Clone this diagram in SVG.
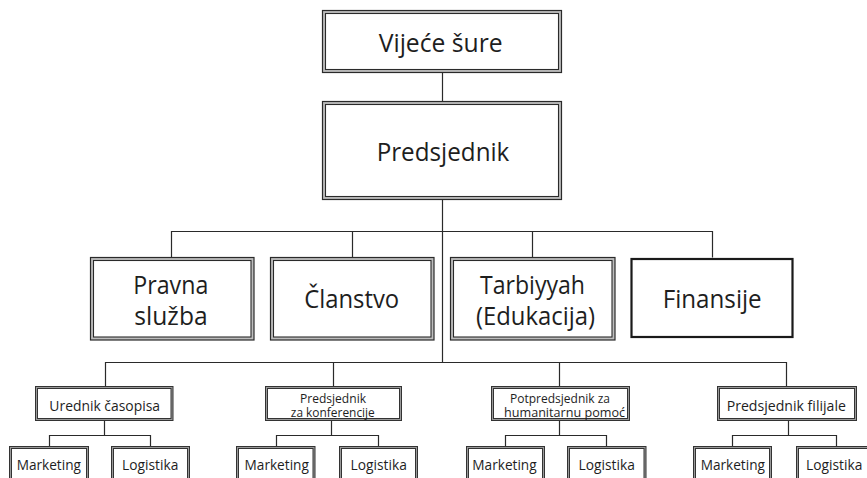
<svg xmlns="http://www.w3.org/2000/svg" width="867" height="478" viewBox="0 0 867 478">
  <style>
    .o { fill: #bdbdbd; stroke: #2a2a2a; stroke-width: 1.2; }
    .i { fill: #ffffff; stroke: #2a2a2a; stroke-width: 1.1; }
    .os { fill: #9a9a9a; stroke: #333; stroke-width: 1; }
    .is { fill: #ffffff; stroke: #333; stroke-width: 1; }
    .thick { fill: #ffffff; stroke: #1a1a1a; stroke-width: 2.2; }
    .c { fill: none; stroke: #2a2a2a; stroke-width: 1.2; }
    text { font-family: "Open Sans", "Noto Sans", sans-serif; fill: #1e1e1e; text-anchor: middle; }
    .t1 { font-size: 25px; }
    .t2 { font-size: 26px; }
    .t3 { font-size: 15px; }
    .t3s { font-size: 13px; }
  </style>
  <rect width="867" height="478" fill="#ffffff"/>

  <g id="connectors">
    <path class="c" d="M442.5 72.5V101.5 M442.5 199.5V362.5"/>
    <path class="c" d="M171.5 257.5V231.5H712.5V257.5 M352.5 231.5V257.5 M532.5 231.5V257.5"/>
    <path class="c" d="M105.5 386.5V362.5H786.5V386.5 M333.5 362.5V386.5 M559.5 362.5V386.5"/>
    <path class="c" d="M104.5 420.5V435.5 M49.5 446V435.5H150.5V446"/>
    <path class="c" d="M331.5 420.5V435.5 M276.5 446V435.5H378.5V446"/>
    <path class="c" d="M559.5 420.5V435.5 M505.5 446V435.5H606.5V446"/>
    <path class="c" d="M788.5 420.5V435.5 M732.5 446V435.5H836.5V446"/>
  </g>

  <g id="vijece-sure">
    <rect class="o" x="322.5" y="10.5" width="239" height="62"/>
    <rect class="i" x="325.5" y="13.5" width="233" height="56"/>
    <text class="t1" x="440.7" y="52" textLength="124" lengthAdjust="spacingAndGlyphs">Vijeće šure</text>
  </g>

  <g id="predsjednik">
    <rect class="o" x="322.5" y="101.5" width="239" height="98"/>
    <rect class="i" x="325.5" y="104.5" width="233" height="92"/>
    <text class="t1" x="443" y="160.5" textLength="132.7" lengthAdjust="spacingAndGlyphs">Predsjednik</text>
  </g>

  <g id="pravna-sluzba">
    <rect class="o" x="90.5" y="257.5" width="163.5" height="82.5"/>
    <rect class="i" x="93.5" y="260.5" width="157.5" height="76.5"/>
    <text class="t2" x="170.8" y="294" textLength="75" lengthAdjust="spacingAndGlyphs">Pravna</text>
    <text class="t2" x="171" y="325" textLength="73.3" lengthAdjust="spacingAndGlyphs">služba</text>
  </g>

  <g id="clanstvo">
    <rect class="o" x="270.5" y="257.5" width="163.5" height="82.5"/>
    <rect class="i" x="273.5" y="260.5" width="157.5" height="76.5"/>
    <text class="t2" x="351.7" y="308" textLength="95" lengthAdjust="spacingAndGlyphs">Članstvo</text>
  </g>

  <g id="tarbiyyah">
    <rect class="o" x="450.5" y="257.5" width="164.5" height="82.5"/>
    <rect class="i" x="453.5" y="260.5" width="158.5" height="76.5"/>
    <text class="t2" x="532.5" y="294" textLength="105" lengthAdjust="spacingAndGlyphs">Tarbiyyah</text>
    <text class="t2" x="535.5" y="325" textLength="119" lengthAdjust="spacingAndGlyphs">(Edukacija)</text>
  </g>

  <g id="finansije">
    <rect class="thick" x="631.5" y="259" width="161" height="78"/>
    <text class="t2" x="712.2" y="308" textLength="99" lengthAdjust="spacingAndGlyphs">Finansije</text>
  </g>

  <g id="urednik-casopisa">
    <rect class="os" x="35.5" y="386.5" width="137.5" height="34"/>
    <rect class="is" x="37.5" y="388.5" width="133.5" height="30"/>
    <text class="t3" x="104.7" y="410.5" textLength="110.7" lengthAdjust="spacingAndGlyphs">Urednik časopisa</text>
  </g>

  <g id="predsjednik-konferencije">
    <rect class="os" x="265.5" y="386.5" width="136" height="34"/>
    <rect class="is" x="267.5" y="388.5" width="132" height="30"/>
    <text class="t3s" x="333" y="403" textLength="66" lengthAdjust="spacingAndGlyphs">Predsjednik</text>
    <text class="t3s" x="332.8" y="416.5" textLength="84" lengthAdjust="spacingAndGlyphs">za konferencije</text>
  </g>

  <g id="potpredsjednik-humanitarna">
    <rect class="os" x="491.5" y="386.5" width="138" height="34"/>
    <rect class="is" x="493.5" y="388.5" width="134" height="30"/>
    <text class="t3s" x="560" y="403" textLength="100" lengthAdjust="spacingAndGlyphs">Potpredsjednik za</text>
    <text class="t3s" x="564.5" y="416.5" textLength="121" lengthAdjust="spacingAndGlyphs">humanitarnu pomoć</text>
  </g>

  <g id="predsjednik-filijale">
    <rect class="os" x="717.5" y="386.5" width="139" height="34"/>
    <rect class="is" x="719.5" y="388.5" width="135" height="30"/>
    <text class="t3" x="786.3" y="410.5" textLength="119.3" lengthAdjust="spacingAndGlyphs">Predsjednik filijale</text>
  </g>

  <!-- fourth row: Marketing / Logistika pairs -->
  <g id="marketing-1">
    <rect class="os" x="9.5" y="446.5" width="79" height="40"/>
    <rect class="is" x="11.5" y="448.5" width="75" height="40"/>
    <text class="t3" x="48.8" y="470" textLength="64.3" lengthAdjust="spacingAndGlyphs">Marketing</text>
  </g>
  <g id="logistika-1">
    <rect class="os" x="111.5" y="446.5" width="78" height="40"/>
    <rect class="is" x="113.5" y="448.5" width="74" height="40"/>
    <text class="t3" x="150.2" y="470" textLength="56.3" lengthAdjust="spacingAndGlyphs">Logistika</text>
  </g>
  <g id="marketing-2">
    <rect class="os" x="236.5" y="446.5" width="78.5" height="40"/>
    <rect class="is" x="238.5" y="448.5" width="74.5" height="40"/>
    <text class="t3" x="276.7" y="470" textLength="64.3" lengthAdjust="spacingAndGlyphs">Marketing</text>
  </g>
  <g id="logistika-2">
    <rect class="os" x="339.5" y="446.5" width="78" height="40"/>
    <rect class="is" x="341.5" y="448.5" width="74" height="40"/>
    <text class="t3" x="378.7" y="470" textLength="56.3" lengthAdjust="spacingAndGlyphs">Logistika</text>
  </g>
  <g id="marketing-3">
    <rect class="os" x="466.5" y="446.5" width="78" height="40"/>
    <rect class="is" x="468.5" y="448.5" width="74" height="40"/>
    <text class="t3" x="504.5" y="470" textLength="64.3" lengthAdjust="spacingAndGlyphs">Marketing</text>
  </g>
  <g id="logistika-3">
    <rect class="os" x="567.5" y="446.5" width="78.5" height="40"/>
    <rect class="is" x="569.5" y="448.5" width="74.5" height="40"/>
    <text class="t3" x="606.7" y="470" textLength="56.3" lengthAdjust="spacingAndGlyphs">Logistika</text>
  </g>
  <g id="marketing-4">
    <rect class="os" x="693.5" y="446.5" width="78" height="40"/>
    <rect class="is" x="695.5" y="448.5" width="74" height="40"/>
    <text class="t3" x="732.8" y="470" textLength="64.3" lengthAdjust="spacingAndGlyphs">Marketing</text>
  </g>
  <g id="logistika-4">
    <rect class="os" x="796.5" y="446.5" width="78" height="40"/>
    <rect class="is" x="798.5" y="448.5" width="74" height="40"/>
    <text class="t3" x="834.2" y="470" textLength="56.3" lengthAdjust="spacingAndGlyphs">Logistika</text>
  </g>
</svg>
